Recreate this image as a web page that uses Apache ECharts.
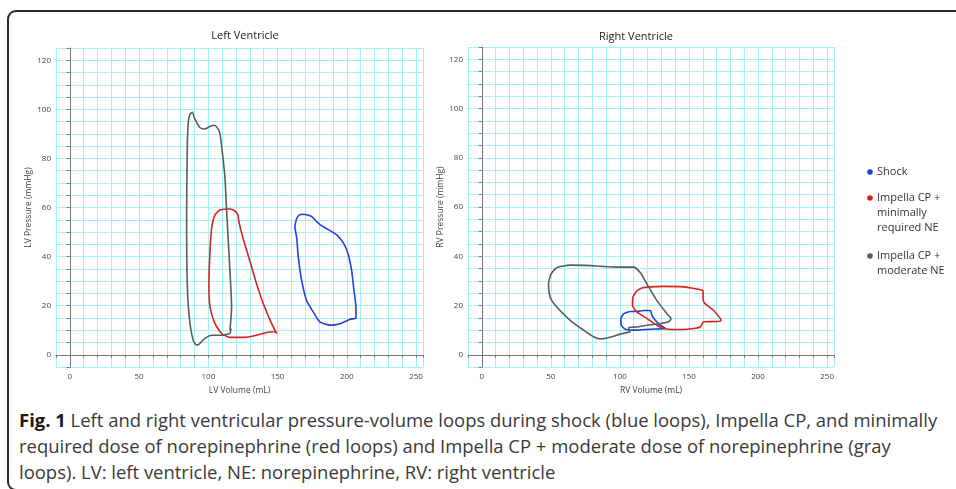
<!DOCTYPE html>
<html>
<head>
<meta charset="utf-8">
<script src="https://cdn.jsdelivr.net/npm/echarts@6/dist/echarts.min.js"></script>
<style>
  html, body { margin: 0; padding: 0; background: #fff; }
  #wrap { position: relative; width: 956px; height: 489px; overflow: hidden; }
  #frame { position: absolute; left: 7px; top: 10px; width: 980px; height: 477px;
           border: 2px solid #2a2a2a; border-radius: 9px 0 0 9px; }
  #chart { position: absolute; left: 0; top: 0; width: 956px; height: 400px; }
  #caption { position: absolute; left: 19px; top: 407px; white-space: nowrap;
             font-family: "Open Sans", "Noto Sans", sans-serif; font-size: 16px; line-height: 26px; color: #3a3a3a; }
  #caption b { color: #1a1a1a; }
</style>
</head>
<body>
<div id="wrap">
  <div id="frame"></div>
  <div id="chart"></div>
  <div id="caption"><span id="cap1"><b>Fig. 1</b> Left and right ventricular pressure-volume loops during shock (blue loops), Impella CP, and minimally</span><br>required dose of norepinephrine (red loops) and Impella CP + moderate dose of norepinephrine (gray<br>loops). LV: left ventricle, NE: norepinephrine, RV: right ventricle</div>
</div>
<script>
///////// DATA (volume mL, pressure mmHg) /////////
const lvShock = [
  [163.8, 55.6], [162.5, 52.3], [163.8, 47.6], [165, 39.6], [167.4, 30.2], [171, 22],
  [175.8, 17.4], [180.6, 13.4], [187.9, 12.1], [195, 12.7], [202.3, 14.5], [206.6, 15],
  [206.6, 19.4], [205.2, 26], [203.5, 34.2], [201, 40.9], [197.5, 45.6], [192.7, 48.9],
  [186.7, 51], [180.6, 53], [174.6, 56.3], [168.6, 57.3], [165.7, 57]
];
const lvImpellaMin = [
  [113.2, 59.4], [108.4, 59], [104.8, 57], [102.4, 51.6], [101.2, 42.2], [100.4, 28.8],
  [101.2, 19.4], [104.8, 12.7], [109.6, 8.7], [115.6, 7.1], [125.2, 7.1], [134.9, 8],
  [142, 9.1], [148.1, 9.4], [149.3, 8.7], [145.7, 12.7], [139.7, 20.8], [134.9, 28.8],
  [130, 38.2], [125, 47.6], [122, 54.3], [121.4, 57], [119.2, 58.6], [115.6, 59.4]
];
const lvImpellaMod = [
  [115.6, 10], [116.8, 19.4], [115.6, 34], [113, 61], [112, 72], [109.6, 85], [108, 91],
  [104.6, 93.5], [101, 93], [97.5, 92], [94, 92.5], [90.3, 96], [88.4, 98.8], [86.7, 98],
  [85.5, 94.5], [84.8, 85], [84.3, 55.6], [84.8, 28.8], [86.2, 15.4], [89, 6], [91.5, 4],
  [94, 4.7], [97.5, 6.7], [102.4, 8], [109.6, 8], [115.6, 8.7], [116.3, 10.7]
];
const rvShock = [
  [102.7, 16.7], [100.7, 14.7], [101, 12], [103.9, 10.4], [112.3, 10], [121.9, 10.4],
  [132.9, 10.7], [129.2, 12], [125.6, 14], [123.2, 16], [122, 18], [117.1, 18],
  [112.3, 17.6], [107.5, 17.6]
];
const rvImpellaMin = [
  [112.3, 26], [109.4, 23.4], [109.1, 20], [112.3, 17.4], [119.6, 14.7], [126.8, 12],
  [131.6, 10.7], [138.9, 10.3], [148.6, 10.4], [158.2, 11.3], [160.6, 13.4], [170.3, 13.5],
  [173.2, 13.8], [172.7, 14.7], [167.9, 18], [161.2, 21], [160.2, 23.4], [160.2, 26],
  [155.8, 26.7], [146.1, 27.6], [131.6, 27.8], [122, 27.6], [116, 27.1]
];
const rvImpellaMod = [
  [107.5, 9.3], [100.2, 8.4], [93, 7.1], [85.7, 6.4], [80.9, 7.3], [73.7, 10], [64, 14],
  [54.3, 19.4], [49.5, 23.4], [48.3, 28.7], [50, 32.7], [54.3, 35.4], [64, 36.4], [76, 36.3],
  [87, 35.9], [97.8, 35.6], [109.9, 35.6], [114.7, 33.4], [119.6, 28.7], [126.8, 22],
  [134, 16.7], [137, 14.7], [135.3, 13.4], [129.2, 12.7], [119.6, 12], [112.3, 11.3],
  [106.3, 11], [107, 9.7]
];
const chartTitles = ['Left Ventricle', 'Right Ventricle'];
const xNames = ['LV Volume (mL)', 'RV Volume (mL)'];
const yNames = ['LV Pressure (mmHg)', 'RV Pressure (mmHg)'];
const legendNames = ['Shock', 'Impella CP +\nminimally\nrequired NE', 'Impella CP +\nmoderate NE'];

const BLUE = '#1f3fe0', RED = '#dc1f1f', GRAY = '#5c5c5c';
const GRIDLINE = '#a2f2f4';
const FONT = '"Open Sans", "Noto Sans", sans-serif';

// caption: first line should run from x=19 to about x=938
const cap = document.getElementById('caption');
const cap1 = document.getElementById('cap1');
const w = cap1.getBoundingClientRect().width;
cap.style.fontSize = (16 * 919 / w).toFixed(2) + 'px';

///////// CHART /////////
const chart = echarts.init(document.getElementById('chart'), null, { renderer: 'canvas' });

function closed(pts) {
  return pts.concat([pts[0]]);
}

function loop(name, pts, color, idx) {
  return {
    name: name,
    type: 'line',
    xAxisIndex: idx,
    yAxisIndex: idx,
    data: closed(pts),
    showSymbol: false,
    smooth: 0.2,
    lineStyle: { color: color, width: 1.6 },
    itemStyle: { color: color },
    z: 5
  };
}

function xAxis(idx) {
  return {
    type: 'value', gridIndex: idx, min: -10, max: 255, interval: 10,
    name: xNames[idx], nameLocation: 'middle', nameGap: 14,
    nameTextStyle: { fontFamily: FONT, fontSize: 8.5, color: '#444' },
    axisLine: { lineStyle: { color: '#777', width: 1 } },
    axisTick: { show: true, length: 3, lineStyle: { color: '#777' } },
    axisLabel: {
      fontFamily: FONT, fontSize: 8, color: '#444', margin: 6,
      formatter: v => (v >= 0 && v <= 250 && v % 50 === 0) ? String(v) : ''
    },
    splitLine: { show: true, lineStyle: { color: GRIDLINE, width: 1 } }
  };
}

function yAxis(idx) {
  return {
    type: 'value', gridIndex: idx, min: -5, max: 125, interval: 5,
    name: yNames[idx], nameLocation: 'middle', nameGap: 18,
    nameTextStyle: { fontFamily: FONT, fontSize: 8.5, color: '#444' },
    axisLine: { lineStyle: { color: '#777', width: 1 } },
    axisTick: { show: true, length: 3, lineStyle: { color: '#777' } },
    axisLabel: {
      fontFamily: FONT, fontSize: 8, color: '#444', margin: 5,
      formatter: v => (v >= 0 && v <= 120 && v % 20 === 0) ? String(v) : ''
    },
    splitLine: { show: true, lineStyle: { color: GRIDLINE, width: 1 } }
  };
}

// legend drawn by hand so the dot sits on the first text line
const legendY = [172, 198, 256];
const legendColors = [BLUE, RED, GRAY];
const legendGraphics = [];
legendNames.forEach((n, i) => {
  legendGraphics.push({
    type: 'circle', shape: { cx: 870, cy: legendY[i], r: 2.8 },
    style: { fill: legendColors[i] }
  });
  legendGraphics.push({
    type: 'text', x: 877, y: legendY[i] - 8,
    style: { text: n, fill: '#333', font: '11px ' + FONT, lineHeight: 15, verticalAlign: 'top' }
  });
});

const option = {
  animation: false,
  backgroundColor: 'transparent',
  title: [
    { text: chartTitles[0], left: 240, top: 25, textAlign: 'center',
      textStyle: { fontFamily: FONT, fontSize: 11, fontWeight: 'normal', color: '#222' } },
    { text: chartTitles[1], left: 631, top: 26, textAlign: 'center',
      textStyle: { fontFamily: FONT, fontSize: 11, fontWeight: 'normal', color: '#222' } }
  ],
  grid: [
    { left: 56, top: 48, width: 367, height: 322 },
    { left: 468, top: 47, width: 366, height: 323 }
  ],
  xAxis: [xAxis(0), xAxis(1)],
  yAxis: [yAxis(0), yAxis(1)],
  series: [
    loop('Shock', lvShock, BLUE, 0),
    loop('Impella CP + minimally required NE', lvImpellaMin, RED, 0),
    loop('Impella CP + moderate NE', lvImpellaMod, GRAY, 0),
    loop('Shock', rvShock, BLUE, 1),
    loop('Impella CP + minimally required NE', rvImpellaMin, RED, 1),
    loop('Impella CP + moderate NE', rvImpellaMod, GRAY, 1)
  ],
  graphic: legendGraphics
};

chart.setOption(option);
</script>
</body>
</html>
